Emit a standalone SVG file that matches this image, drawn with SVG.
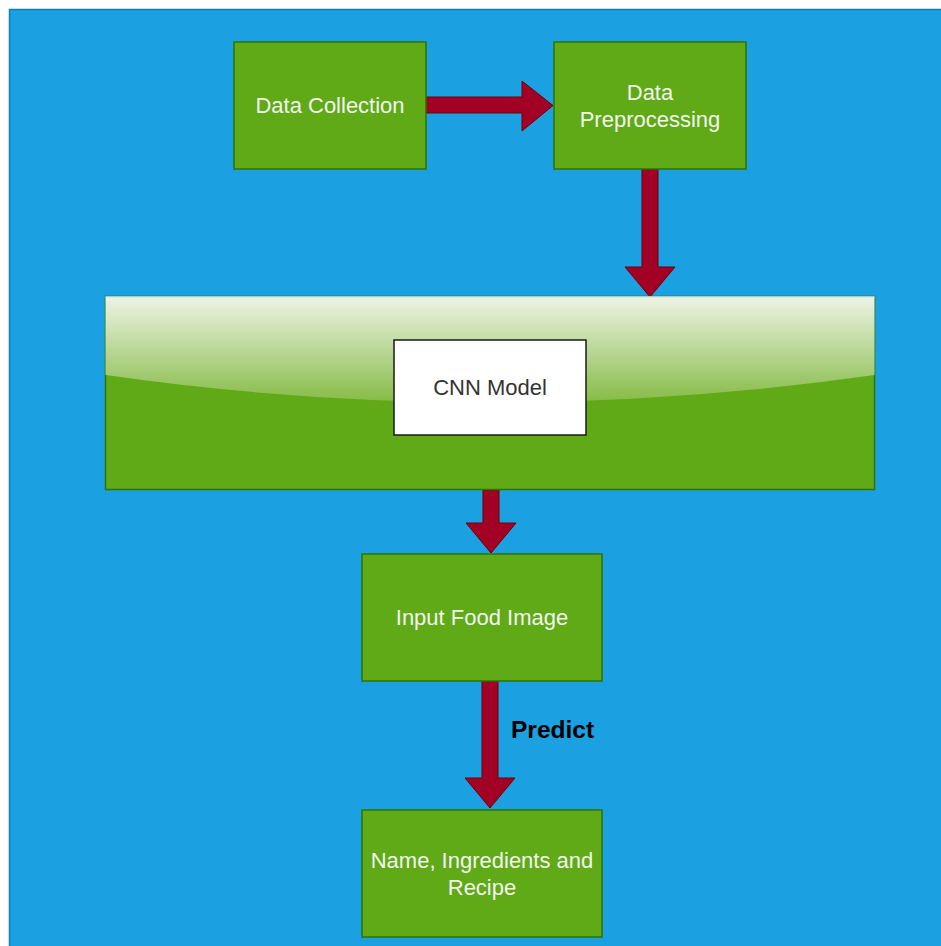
<svg xmlns="http://www.w3.org/2000/svg" width="941" height="946" viewBox="0 0 941 946">
<defs>
<style>
.box{fill:#60a917;stroke:#2d7600;stroke-width:1.5}
.arr{fill:#a20025;stroke:#6f0000;stroke-width:1}
.lbl{font-family:"Liberation Sans",Arial,sans-serif;font-size:22px;fill:#f2f6ee;text-anchor:middle}
</style>
<linearGradient id="gloss" x1="0" y1="0" x2="0" y2="1">
<stop offset="0" stop-color="#eef4e6"/>
<stop offset="1" stop-color="#86bb46"/>
</linearGradient>
</defs>
<rect x="0" y="0" width="941" height="946" fill="#ffffff"/>
<rect x="9.5" y="9.5" width="940" height="945" fill="#1ba1e2" stroke="#0f7dc0" stroke-width="1.5"/>
<g id="connectors">
<polygon class="arr" points="426,97 522,97 522,81 553,105.5 522,131 522,113 426,113"/>
<polygon class="arr" points="642,169 642,267 625,267 650,297 675,267 658,267 658,169"/>
<polygon class="arr" points="483,490 483,523 466,523 491,553 516,523 499,523 499,490"/>
<polygon class="arr" points="482,681 482,778 465,778 490,808 515,778 498,778 498,681"/>
<text x="511" y="738" font-family="Liberation Sans,Arial,sans-serif" font-size="24.5" font-weight="bold" fill="#000">Predict</text>
</g>
<g id="data-collection">
<rect class="box" x="234" y="42" width="192" height="127"/>
<text class="lbl" x="330" y="113">Data Collection</text>
</g>
<g id="data-preprocessing">
<rect class="box" x="554" y="42" width="192" height="127"/>
<text class="lbl" x="650" y="100">Data</text>
<text class="lbl" x="650" y="127">Preprocessing</text>
</g>
<g id="cnn-container">
<rect class="box" x="105.5" y="296.5" width="769" height="193"/>
<path d="M105.5,296.5 H874.5 V375 Q490,430 105.5,375 Z" fill="url(#gloss)"/>
<rect x="105.5" y="296.5" width="769" height="1.5" fill="#cfe8f5"/>
</g>
<g id="cnn-model">
<rect x="394" y="340" width="192" height="95" fill="#ffffff" stroke="#1a1a1a" stroke-width="1.5"/>
<text x="490" y="395" font-family="Liberation Sans,Arial,sans-serif" font-size="22" fill="#333333" text-anchor="middle">CNN Model</text>
</g>
<g id="input-food-image">
<rect class="box" x="362" y="554" width="240" height="127"/>
<text class="lbl" x="482" y="625">Input Food Image</text>
</g>
<g id="name-ingredients-recipe">
<rect class="box" x="362" y="810" width="240" height="127"/>
<text class="lbl" x="482" y="868">Name, Ingredients and</text>
<text class="lbl" x="482" y="895">Recipe</text>
</g>
</svg>
